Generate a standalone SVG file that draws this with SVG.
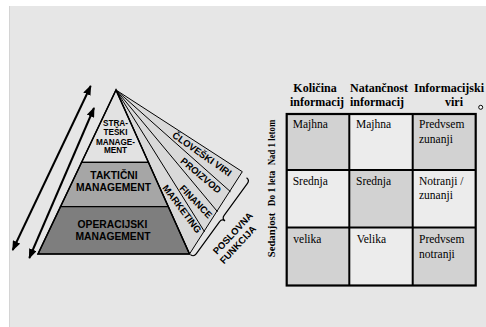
<svg xmlns="http://www.w3.org/2000/svg" width="486" height="327" viewBox="0 0 486 327">
<defs>
<style>
.sans{font-family:"Liberation Sans",Arial,sans-serif;font-weight:bold;fill:#000}
.serif{font-family:"Liberation Serif","Times New Roman",serif;fill:#000}
.b{font-weight:bold}
.ln{stroke:#000;fill:none}
.cg{fill:#d2d2d2}
.cl{fill:#ececec}
</style>
<marker id="ah" markerWidth="10" markerHeight="8" refX="9" refY="4" orient="auto-start-reverse" markerUnits="userSpaceOnUse">
<path d="M0,0 L10,4 L0,8 Z" fill="#000"/>
</marker>
</defs>
<rect x="0" y="0" width="486" height="327" fill="#fff"/>
<rect x="9" y="6" width="477" height="321" fill="#e6e6e6"/>
<line x1="9.5" y1="6" x2="9.5" y2="327" stroke="#d4d4d4" stroke-width="1"/>

<g id="connectors">
<line x1="90.7" y1="86" x2="12.7" y2="250" stroke="#000" stroke-width="2" marker-start="url(#ah)" marker-end="url(#ah)"/>
<line x1="94" y1="108" x2="29.3" y2="258" stroke="#000" stroke-width="2" marker-start="url(#ah)" marker-end="url(#ah)"/>
</g>

<g id="fan">
<polygon points="116,90 242.3,171.7 189.5,254" fill="#d9d9d9" stroke="#000" stroke-width="1"/>
<line class="ln" x1="116" y1="90" x2="230.5" y2="191.7" stroke-width="1"/>
<line class="ln" x1="116" y1="90" x2="217.5" y2="211.7" stroke-width="1"/>
<line class="ln" x1="116" y1="90" x2="204.5" y2="231.7" stroke-width="1"/>
<text class="sans" font-size="9.5" text-anchor="middle" dy="0.35em" transform="translate(202,154) rotate(35)">ČLOVEŠKI VIRI</text>
<text class="sans" font-size="9.5" text-anchor="middle" dy="0.35em" transform="translate(201,175.5) rotate(40)">PROIZVOD</text>
<text class="sans" font-size="9.5" text-anchor="middle" dy="0.35em" transform="translate(196,201.5) rotate(46)">FINANCE</text>
<text class="sans" font-size="9.5" text-anchor="middle" dy="0.35em" transform="translate(182,209) rotate(53)">MARKETING</text>
</g>

<g id="strateski">
<polygon points="116,90 148.4,162.3 81.6,162.3" fill="#e2e2e2" stroke="#000" stroke-width="1.2"/>
<text class="sans" font-size="8.2" text-anchor="middle"><tspan x="115.5" y="126">STRA-</tspan><tspan x="115.5" y="135.3">TEŠKI</tspan><tspan x="115.5" y="144.7">MANAGE-</tspan><tspan x="115.5" y="153.3">MENT</tspan></text>
</g>
<g id="takticni">
<polygon points="81.6,162.3 148.4,162.3 168.3,206.7 60.5,206.7" fill="#a6a6a6" stroke="#000" stroke-width="1.2"/>
<text class="sans" font-size="10.3" text-anchor="middle"><tspan x="114" y="179">TAKTIČNI</tspan><tspan x="113.5" y="191">MANAGEMENT</tspan></text>
</g>
<g id="operacijski">
<polygon points="60.5,206.7 168.3,206.7 189.5,254 38,254" fill="#7e7e7e" stroke="#000" stroke-width="1.2"/>
<text class="sans" font-size="10.3" text-anchor="middle"><tspan x="112.5" y="228.3">OPERACIJSKI</tspan><tspan x="113" y="240">MANAGEMENT</tspan></text>
</g>
<polygon points="116,90 189.5,254 38,254" fill="none" stroke="#000" stroke-width="1.5"/>

<g id="poslovna">
<path class="ln" stroke-width="1.2" transform="translate(221,218) rotate(-54)" d="M -47.6,-3 Q -47.6,1 -43.6,1 L -4,1 Q 0,1 0,5 Q 0,1 4,1 L 43.6,1 Q 47.6,1 47.6,-3"/>
<text class="sans" font-size="9.5" text-anchor="middle" dy="0.35em" transform="translate(232.8,233.3) rotate(-47)">POSLOVNA</text>
<text class="sans" font-size="9.5" text-anchor="middle" dy="0.35em" transform="translate(237.9,244.6) rotate(-47)">FUNKCIJA</text>
</g>

<g id="table">
<text class="serif b" font-size="12" text-anchor="middle"><tspan x="315" y="91.7">Količina</tspan><tspan x="317" y="105.7">informacij</tspan></text>
<text class="serif b" font-size="12" text-anchor="middle"><tspan x="379" y="91.7">Natančnost</tspan><tspan x="377" y="105.7">informacij</tspan></text>
<text class="serif b" font-size="12" text-anchor="middle"><tspan x="449" y="91.7">Informacijski</tspan><tspan x="454" y="105.7">viri</tspan></text>
<circle cx="480.7" cy="107.3" r="2" fill="#fff" stroke="#000" stroke-width="1"/>

<rect class="cg" x="286.7" y="114" width="62.6" height="56"/>
<rect class="cl" x="349.3" y="114" width="63.4" height="56"/>
<rect class="cg" x="412.7" y="114" width="63" height="56"/>
<rect class="cl" x="286.7" y="170" width="62.6" height="57.5"/>
<rect class="cg" x="349.3" y="170" width="63.4" height="57.5"/>
<rect class="cl" x="412.7" y="170" width="63" height="57.5"/>
<rect class="cg" x="286.7" y="227.5" width="62.6" height="58"/>
<rect class="cl" x="349.3" y="227.5" width="63.4" height="58"/>
<rect class="cg" x="412.7" y="227.5" width="63" height="58"/>
<g class="ln" stroke-width="2">
<rect x="286.7" y="114" width="189" height="171.5" stroke-width="2.2"/>
<line x1="349.3" y1="114" x2="349.3" y2="285.5"/>
<line x1="412.7" y1="114" x2="412.7" y2="285.5"/>
<line x1="286.7" y1="170" x2="475.7" y2="170"/>
<line x1="286.7" y1="227.5" x2="475.7" y2="227.5"/>
</g>
<g class="serif" font-size="11.5">
<text x="292.7" y="127.5">Majhna</text>
<text x="356" y="127.5">Majhna</text>
<text><tspan x="419" y="127.5">Predvsem</tspan><tspan x="419" y="143.3">zunanji</tspan></text>
<text x="292.7" y="185">Srednja</text>
<text x="356" y="185">Srednja</text>
<text><tspan x="419" y="185">Notranji /</tspan><tspan x="419" y="198.8">zunanji</tspan></text>
<text x="293.3" y="242.7">velika</text>
<text x="356.7" y="242.7">Velika</text>
<text><tspan x="419" y="242.7">Predvsem</tspan><tspan x="419" y="258">notranji</tspan></text>
</g>
<g class="serif b" font-size="10.5" text-anchor="middle">
<text transform="translate(275,142.5) scale(1,0.84) rotate(-90)">Nad 1 letom</text>
<text transform="translate(275,188.5) scale(1,0.9) rotate(-90)">Do 1 leta</text>
<text transform="translate(275,235) scale(1,1.02) rotate(-90)">Sedanjost</text>
</g>
</g>
</svg>
